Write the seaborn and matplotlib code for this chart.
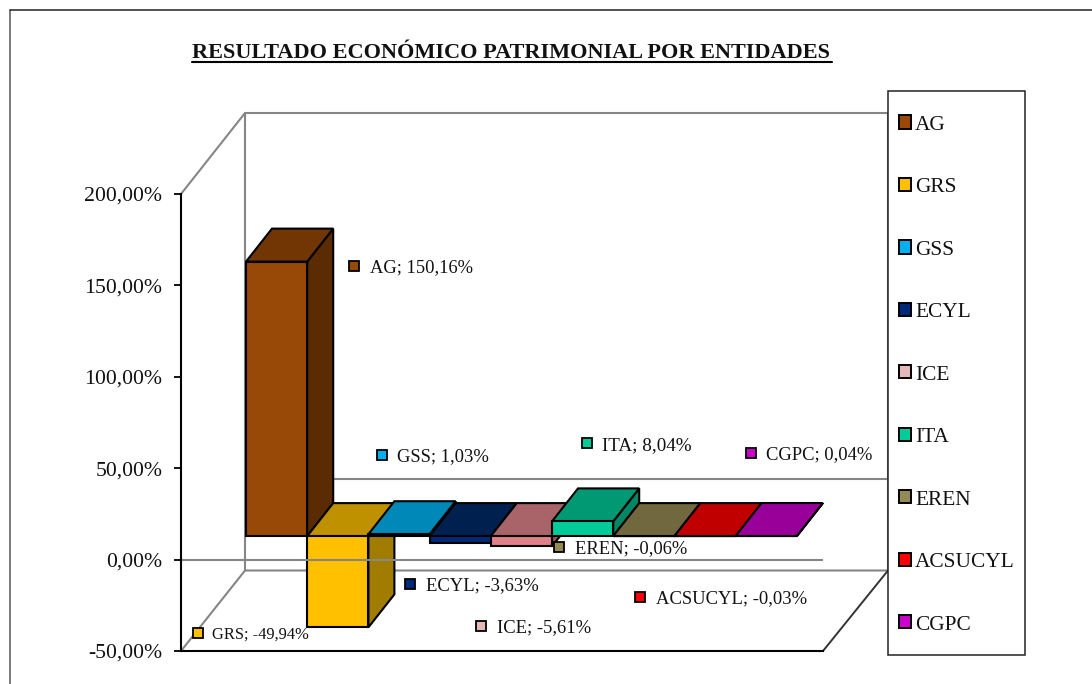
import matplotlib
matplotlib.use("Agg")
import matplotlib.pyplot as plt
from matplotlib.patches import Patch, Polygon, Rectangle
import pandas as pd
import seaborn as sns

# ---- data
categories = ["AG", "GRS", "GSS", "ECYL", "ICE", "ITA", "EREN", "ACSUCYL", "CGPC"]
values = [150.16, -49.94, 1.03, -3.63, -5.61, 8.04, -0.06, -0.03, 0.04]
value_labels = ["150,16%", "-49,94%", "1,03%", "-3,63%", "-5,61%", "8,04%", "-0,06%", "-0,03%", "0,04%"]
y_ticks = [-50, 0, 50, 100, 150, 200]
y_tick_labels = ["-50,00%", "0,00%", "50,00%", "100,00%", "150,00%", "200,00%"]
title = "RESULTADO ECONÓMICO PATRIMONIAL POR ENTIDADES"

# ---- styles
front_colors = ["#984807", "#FFC000", "#0090C0", "#002A78", "#E08088", "#00CC99", "#948A54", "#E00000", "#CC00CC"]
marker_colors = ["#984807", "#FFC000", "#00B0F0", "#002A78", "#E6B9B8", "#00CC99", "#948A54", "#FF0000", "#CC00CC"]
top_colors = ["#723605", "#BF9000", "#0088B8", "#002050", "#A86468", "#009973", "#716840", "#C00000", "#990099"]
side_colors = ["#5B2B04", "#A07C00", "#006C90", "#001A40", "#90545A", "#008866", "#5A5333", "#990000", "#7A007A"]
label_pos = {  # marker centre and text start, in figure pixels
    "AG": (354, 266, 370, 267.5, 13.3), "GRS": (198, 633, 212, 635, 11.9),
    "GSS": (382, 455, 397, 456.5, 13.4), "ECYL": (410, 584, 426, 585.5, 13.4),
    "ICE": (481, 626, 497, 628, 13.4), "ITA": (587, 443, 602, 445.5, 13.75),
    "EREN": (559, 547, 575, 548.5, 13.3), "ACSUCYL": (640, 597, 656, 598.5, 13.4),
    "CGPC": (751, 453, 766, 454.5, 13.4),
}
GRAY = "#868686"
W, H = 1092, 684
L, R, T, B = 181, 823, 194, 651       # front plane of the plot, pixels
BAR_X0, BAR_W = 246, 61.2             # first bar left edge / bar width, pixels
DX_PX, DY_PX = 26, 33                 # bar depth, pixels
SHIFT_PX = 23.5                       # bar floor above front zero line

sns.set_theme(style="white")
plt.rcParams["font.family"] = ["Liberation Serif", "DejaVu Serif"]

fig = plt.figure(figsize=(W / 100, H / 100), dpi=100, facecolor="white")


def rect(l, t, r, b):
    return [l / W, 1 - b / H, (r - l) / W, (b - t) / H]


# ---- background layer in pixel coordinates (chart frame and walls)
bg = fig.add_axes([0, 0, 1, 1], zorder=0)
bg.set_xlim(0, W)
bg.set_ylim(H, 0)
bg.axis("off")
bg.plot([10, 10], [H, 10], color="#555555", lw=1.1, clip_on=False)
bg.plot([10, W], [10, 10], color="#222222", lw=1.1, clip_on=False)
wall_lines = [
    ([L, 245, 888, 888, 245, 245], [T, 113, 113, 570.5, 570.5, 113]),
    ([L, 245], [B, 570.5]),
    ([245, 888], [479, 479]),
]
for xs, ys in wall_lines:
    bg.plot(xs, ys, color=GRAY, lw=1.5, solid_joinstyle="miter")
bg.plot([R, 888], [B, 570.5], color="#333333", lw=1.4)

# ---- bars: same vertical scale as the axis, floor pushed back by the depth shift
px_per_unit = (B - T) / (y_ticks[-1] - y_ticks[0])
shift = SHIFT_PX / px_per_unit
bar_ax = fig.add_axes(rect(L, T, R, B), zorder=1)
bar_ax.patch.set_alpha(0)
df = pd.DataFrame({"entidad": categories, "valor": values})
sns.barplot(data=df, x="entidad", y="valor", hue="entidad", palette=front_colors,
            order=categories, hue_order=categories, dodge=False, width=1.0,
            saturation=1, legend=False, edgecolor="black", linewidth=1.5, ax=bar_ax)
bar_ax.set_xlim((L - BAR_X0) / BAR_W - 0.5, (R - BAR_X0) / BAR_W - 0.5)
bar_ax.set_ylim(y_ticks[0] - shift, y_ticks[-1] - shift)
bar_ax.axis("off")

dx = DX_PX / BAR_W
dy = DY_PX / px_per_unit
for i, p in enumerate(bar_ax.patches):
    x0, x1 = p.get_x(), p.get_x() + p.get_width()
    lo, hi = sorted((p.get_y(), p.get_y() + p.get_height()))
    p.set_zorder(3 * i + 3)
    side = Polygon([(x1, lo), (x1, hi), (x1 + dx, hi + dy), (x1 + dx, lo + dy)], closed=True,
                   facecolor=side_colors[i], edgecolor="black", lw=1.5, zorder=3 * i + 1,
                   joinstyle="miter", clip_on=False)
    top = Polygon([(x0, hi), (x1, hi), (x1 + dx, hi + dy), (x0 + dx, hi + dy)], closed=True,
                  facecolor=top_colors[i], edgecolor="black", lw=1.5, zorder=3 * i + 2,
                  joinstyle="miter", clip_on=False)
    bar_ax.add_patch(side)
    bar_ax.add_patch(top)

# ---- value axis and front zero line
ax = fig.add_axes(rect(L, T, R, B), zorder=2)
ax.patch.set_alpha(0)
ax.set_xlim(0, 1)
ax.set_ylim(y_ticks[0], y_ticks[-1])
ax.axhline(0, color=GRAY, lw=1.5)
sns.despine(ax=ax, top=True, right=True)
for s in ("left", "bottom"):
    ax.spines[s].set_color("black")
    ax.spines[s].set_linewidth(1.5)
ax.set_xticks([])
ax.set_yticks(y_ticks)
ax.set_yticklabels(y_tick_labels, fontsize=15.7, color="#111111")
ax.tick_params(axis="y", left=True, length=5, width=1.3, color="black", pad=8.5)

# ---- texts, data labels, legend
top_ax = fig.add_axes([0, 0, 1, 1], zorder=3)
top_ax.set_xlim(0, W)
top_ax.set_ylim(H, 0)
top_ax.axis("off")
top_ax.text(192, 52.5, title, fontsize=16.05, fontweight="bold", color="#111111", ha="left", va="center")
top_ax.plot([192, 832], [62, 62], color="black", lw=1.5)

for i, c in enumerate(categories):
    mx, my, tx, ty, fs = label_pos[c]
    top_ax.add_patch(Rectangle((mx - 5, my - 5), 10, 10, facecolor=marker_colors[i],
                               edgecolor="black", lw=1.3))
    top_ax.text(tx, ty, f"{c}; {value_labels[i]}", fontsize=fs, color="#111111",
                ha="left", va="center")

top_ax.add_patch(Rectangle((888, 91), 137, 563.5, facecolor="white", edgecolor="#222222", lw=1.1))
handles = [Patch(facecolor=m, edgecolor="black", linewidth=1.4, label=c)
           for m, c in zip(marker_colors, categories)]
top_ax.legend(handles=handles, loc="upper left", bbox_to_anchor=(899 / W, 1 - 115.5 / H),
              bbox_transform=fig.transFigure, frameon=False, fontsize=15.4,
              borderpad=0, borderaxespad=0, labelspacing=2.03, handlelength=0.56,
              handleheight=0.56, handletextpad=0.19, labelcolor="#111111")

fig.savefig("out.png", dpi=100, facecolor="white")
